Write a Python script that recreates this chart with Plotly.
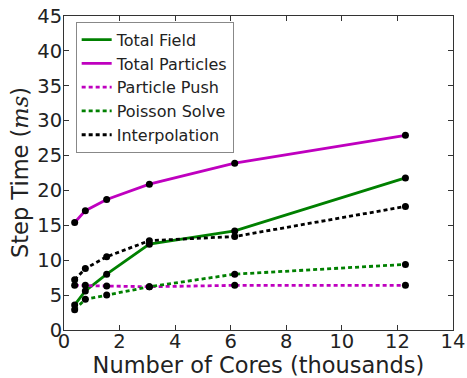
import plotly.graph_objects as go

cores = [0.384, 0.768, 1.536, 3.072, 6.144, 12.288]
total_field = [3.6, 5.6, 8.0, 12.3, 14.2, 21.8]
total_particles = [15.4, 17.1, 18.7, 20.9, 23.9, 27.9]
particle_push = [6.4, 6.4, 6.3, 6.2, 6.4, 6.4]
poisson_solve = [2.9, 4.4, 5.0, 6.2, 8.0, 9.4]
interpolation = [7.2, 8.8, 10.5, 12.8, 13.4, 17.7]

series = [
    ("Total Field", total_field, "#008000", "solid"),
    ("Total Particles", total_particles, "#bf00bf", "solid"),
    ("Particle Push", particle_push, "#bf00bf", "4px,3px"),
    ("Poisson Solve", poisson_solve, "#008000", "4px,3px"),
    ("Interpolation", interpolation, "#000000", "4px,3px"),
]

fig = go.Figure()
for name, vals, color, dash in series:
    fig.add_trace(go.Scatter(x=cores, y=vals, mode="lines", name=name,
                             line=dict(color=color, width=2.8, dash=dash)))
for name, vals, color, dash in series:
    fig.add_trace(go.Scatter(x=cores, y=vals, mode="markers", showlegend=False,
                             marker=dict(color="black", size=7)))

axis_common = dict(showline=True, linecolor="#333", linewidth=1, mirror="allticks",
                   ticks="inside", ticklen=5, tickcolor="#333", showgrid=False,
                   zeroline=False, automargin=False,
                   tickfont=dict(family="DejaVu Sans", size=19.5, color="#222"))

fig.update_layout(
    width=467, height=378,
    margin=dict(l=64, r=14, t=16, b=48),
    paper_bgcolor="white", plot_bgcolor="white",
    font=dict(family="DejaVu Sans", color="#222"),
    xaxis=dict(range=[0, 14], dtick=2, ticklabelstandoff=-6, **axis_common,
               title=dict(text="Number of Cores (thousands)", font=dict(size=22.5), standoff=2)),
    yaxis=dict(range=[0, 45], dtick=5, ticklabelstandoff=-3, **axis_common),
    legend=dict(x=0.03, y=0.982, xanchor="left", yanchor="top",
                bordercolor="#888", borderwidth=1, bgcolor="white",
                font=dict(size=16, family="DejaVu Sans", color="#222"),
                tracegroupgap=0, itemwidth=30),
    showlegend=True,
)
fig.add_annotation(
    text="Step Time (<span style='font-family:DejaVu Serif;font-style:italic'>ms</span>)",
    xref="paper", yref="paper", x=-0.113, y=0.5, xanchor="center", yanchor="middle",
    textangle=-90, showarrow=False, font=dict(size=22.5, family="DejaVu Sans", color="#222"))

fig.write_html("out.html", config={"displayModeBar": False},
               post_script="document.body.style.margin='0';")
